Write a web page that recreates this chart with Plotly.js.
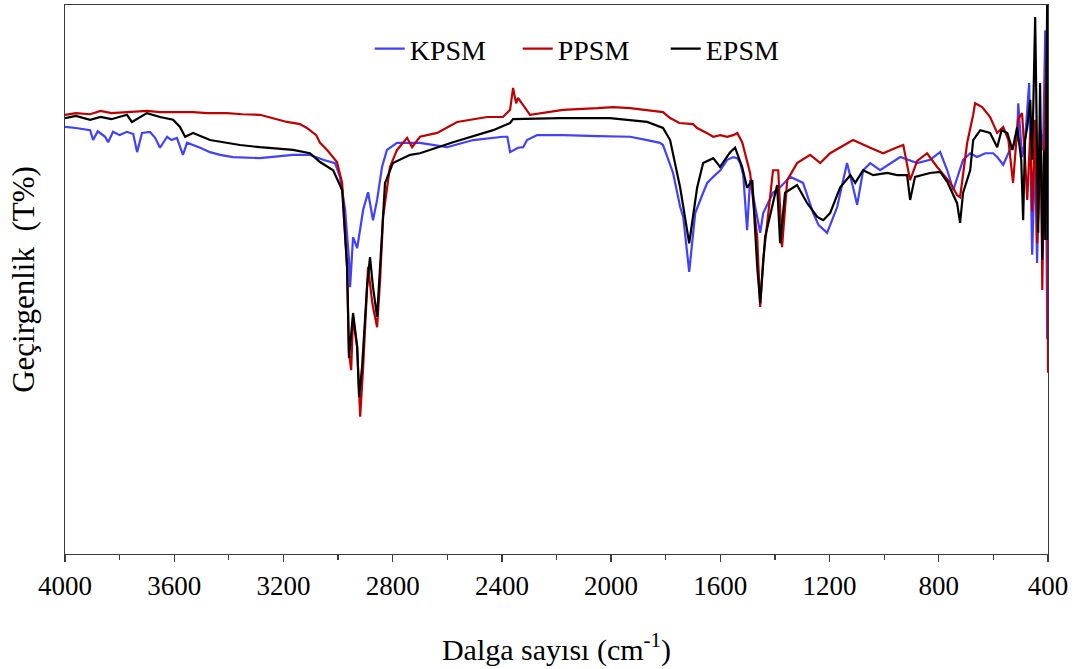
<!DOCTYPE html>
<html>
<head>
<meta charset="utf-8">
<script src="https://cdn.plot.ly/plotly-3.0.1.min.js"></script>
<style>
html,body{margin:0;padding:0;background:#fff;}
#chart .xtick text{font-family:'Liberation Serif','Times New Roman',serif !important;}
</style>
</head>
<body>
<div id="chart" style="width:1078px;height:669px;"></div>
<script>
// Wavenumber (cm-1) and transmittance (T%, arbitrary scale)
const wnKPSM = [4000,3960,3908,3897,3880,3853,3842,3824,3800,3773,3750,3736,3718,3689,3670,3652,3626,3610,3590,3568,3553,3530,3505,3469,3432,3385,3286,3165,3103,3055,3011,2993,2974,2960,2956,2945,2930,2908,2890,2872,2857,2839,2821,2784,2700,2601,2505,2396,2380,2370,2341,2322,2308,2271,2176,2050,1930,1868,1821,1810,1773,1747,1736,1714,1692,1663,1648,1626,1600,1575,1553,1538,1527,1516,1509,1502,1491,1473,1454,1443,1407,1381,1344,1297,1260,1240,1209,1172,1136,1114,1099,1077,1051,1015,941,879,832,795,769,747,711,685,660,630,601,586,564,540,513,509,495,484,469,458,447,440,429,418,410,403,400];
const tKPSM = [77.8,77.6,77.2,75.4,77.0,76.0,75.0,76.9,76.3,76.9,76.5,73.2,76.7,76.9,75.8,74.0,76.0,75.4,75.8,72.7,74.9,74.5,74.0,73.2,72.7,72.3,72.1,72.7,72.7,71.8,71.2,68.7,62.7,53.6,48.6,57.7,55.7,62.7,65.9,60.8,64.5,70.5,73.6,74.9,74.9,74.1,75.4,76.0,76.0,73.2,74.0,74.1,75.4,76.3,76.3,76.1,76.0,75.4,74.9,74.5,69.4,63.2,61.4,51.4,62.1,65.8,67.6,68.7,69.9,71.8,72.3,72.1,71.2,69.0,63.9,59.0,68.1,63.6,58.5,62.1,65.8,66.8,68.7,67.6,62.1,59.9,58.5,63.2,71.2,66.8,63.6,69.9,71.2,69.9,72.3,71.2,71.8,73.2,69.9,66.3,71.8,73.0,72.3,73.0,73.0,72.3,70.9,73.6,75.4,82.1,72.3,75.4,85.8,54.5,73.6,53.0,77.8,73.6,95.4,39.3,39.3];

const wnPPSM = [4000,3960,3908,3870,3830,3773,3700,3652,3600,3531,3480,3407,3350,3286,3187,3140,3114,3080,3066,3040,3004,2985,2967,2960,2952,2945,2930,2919,2908,2890,2876,2872,2857,2846,2835,2810,2784,2747,2729,2700,2637,2564,2454,2396,2370,2359,2348,2341,2297,2176,2050,1993,1930,1868,1810,1784,1750,1700,1685,1650,1626,1600,1575,1553,1538,1520,1509,1491,1465,1454,1443,1407,1388,1374,1355,1319,1271,1234,1198,1114,1051,1004,952,930,905,879,843,806,758,733,722,696,674,667,641,612,586,564,545,528,510,495,484,476,465,458,447,440,425,421,414,410,403,400];
const tPPSM = [80.0,80.3,80.1,80.7,80.3,80.5,80.7,80.5,80.5,80.5,80.3,80.3,80.1,80.0,78.7,78.3,77.6,76.3,74.9,73.6,71.4,67.6,52.3,36.6,33.5,43.2,37.7,25.0,34.1,52.3,46.3,45.0,41.3,49.9,61.4,70.5,73.6,75.8,74.1,76.0,76.7,78.7,79.6,79.6,80.9,84.9,82.1,83.1,80.0,80.9,81.2,81.4,81.2,80.9,80.5,79.4,78.5,78.3,77.6,76.7,76.0,76.3,76.0,76.3,76.7,75.0,72.7,69.4,57.7,45.0,53.6,69.9,69.9,55.9,68.1,71.2,72.7,71.2,73.0,75.4,74.0,73.0,74.1,74.5,68.1,71.6,73.0,70.5,67.6,65.4,65.0,74.9,80.0,82.1,81.4,79.6,76.7,77.8,75.4,67.6,79.1,80.3,71.8,64.5,76.7,62.4,79.1,56.6,75.4,48.1,73.6,82.7,95.4,33.0];

const wnEPSM = [4000,3960,3908,3870,3830,3773,3755,3730,3700,3652,3604,3579,3560,3531,3469,3359,3286,3165,3103,3066,3018,2985,2967,2960,2945,2930,2923,2912,2894,2883,2872,2857,2846,2828,2799,2736,2700,2579,2432,2370,2359,2187,2004,1868,1810,1784,1747,1714,1685,1663,1626,1601,1564,1546,1520,1502,1483,1465,1454,1436,1392,1381,1363,1319,1282,1245,1223,1198,1161,1124,1106,1077,1040,989,952,916,905,887,832,795,769,733,722,711,685,674,648,612,586,570,549,530,513,498,491,484,476,465,458,447,436,429,421,414,410,403,400];
const tEPSM = [79.4,79.8,79.1,79.6,79.2,80.0,78.7,79.4,80.3,79.6,79.1,77.8,76.0,76.7,75.4,74.5,74.1,73.6,73.0,71.4,69.9,66.3,52.3,35.7,43.9,37.7,28.6,34.1,48.6,54.1,48.6,43.2,52.3,67.6,71.2,72.7,73.0,75.0,77.2,78.5,79.2,79.4,79.4,78.7,77.6,75.4,66.7,56.6,66.7,71.2,72.1,70.5,73.2,74.0,70.5,66.7,68.1,52.3,45.7,57.7,67.2,56.6,65.8,67.2,63.9,61.4,60.8,62.1,66.8,69.0,67.6,69.9,69.0,69.4,69.0,69.0,64.5,68.7,69.4,69.6,67.8,63.9,60.3,65.8,69.9,75.4,77.2,76.7,74.1,77.2,76.7,73.6,77.8,71.8,60.8,75.4,77.8,82.7,71.8,97.8,58.5,85.8,53.6,73.6,57.2,100.9,57.2];

const seriesNames = ['KPSM','PPSM','EPSM'];
const xTicks = [4000,3600,3200,2800,2400,2000,1600,1200,800,400];
const xMinorTicks = [3800,3400,3000,2600,2200,1800,1400,1000,600];

const FONT = 'Liberation Serif';
const AX = '#3a3a3a';

const traces = [
  {x: wnKPSM, y: tKPSM, name: seriesNames[0], type: 'scatter', mode: 'lines', line: {color: '#4040ff', width: 2.2}},
  {x: wnPPSM, y: tPPSM, name: seriesNames[1], type: 'scatter', mode: 'lines', line: {color: '#c00000', width: 2.2}},
  {x: wnEPSM, y: tEPSM, name: seriesNames[2], type: 'scatter', mode: 'lines', line: {color: '#000000', width: 2.2}}
];

const layout = {
  width: 1078, height: 669,
  margin: {l: 65, r: 30, t: 5, b: 115},
  paper_bgcolor: '#ffffff', plot_bgcolor: 'rgba(0,0,0,0)',
  font: {family: FONT, size: 27, color: '#000'},
  showlegend: true,
  legend: {orientation: 'h', x: 0.31, y: 0.92, xanchor: 'left', yanchor: 'middle',
           entrywidth: 103, entrywidthmode: 'pixels',
           bgcolor: 'rgba(0,0,0,0)', font: {family: FONT, size: 28, color: '#000'}},
  xaxis: {
    range: [4000, 400], autorange: false,
    tickmode: 'array', tickvals: xTicks, ticktext: xTicks.map(String),
    showgrid: false, zeroline: false,
    showline: true, linecolor: AX, linewidth: 1.3, mirror: true,
    ticks: 'outside', ticklen: 7, tickwidth: 1.3, tickcolor: AX,
    minor: {tickmode: 'array', tickvals: xMinorTicks, ticks: 'outside', ticklen: 5, tickwidth: 1.3, tickcolor: AX, showgrid: false},
    tickfont: {family: FONT, size: 27, color: '#000'},
    title: {text: 'Dalga sayısı (cm<sup>-1</sup>)', font: {family: FONT, size: 30, color: '#000'}, standoff: 39}
  },
  yaxis: {
    range: [0, 100], autorange: false,
    showticklabels: false, ticks: '',
    showgrid: false, zeroline: false,
    showline: true, linecolor: AX, linewidth: 1.3, mirror: true,
    title: {text: 'Geçirgenlik  (T%)', font: {family: FONT, size: 31, color: '#000'}, standoff: 20}
  }
};

Plotly.newPlot('chart', traces, layout, {staticPlot: true, displayModeBar: false});
</script>
</body>
</html>
